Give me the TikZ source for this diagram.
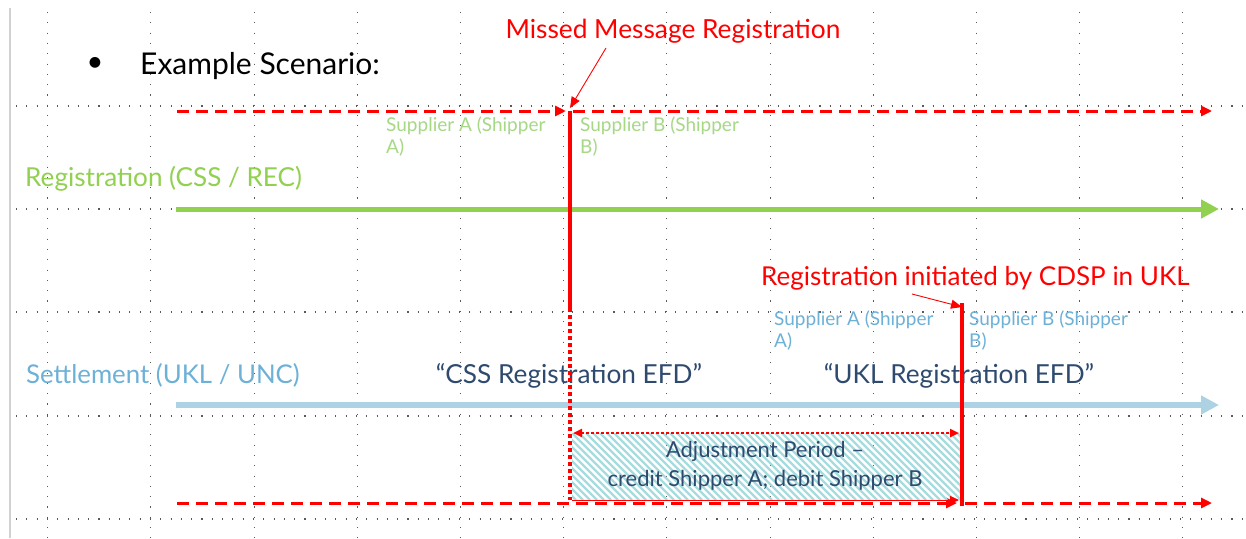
\documentclass[tikz,border=0pt]{standalone}
\usepackage{fontspec}
\setmainfont{Lato}
\usetikzlibrary{arrows.meta}
\definecolor{rred}{HTML}{FF0000}
\definecolor{rgreen}{HTML}{92D050}
\definecolor{lgreen}{HTML}{A6D886}
\definecolor{sblue}{HTML}{ADD2E4}
\definecolor{tblue}{HTML}{6DB1D7}
\definecolor{navy}{HTML}{2E4A6E}
\definecolor{hatchc}{HTML}{A7DCDF}
\tikzset{
  griddot/.style={line width=1.1pt, dash pattern=on 1.1pt off 9.2pt, black!65},
  lbl/.style={inner sep=0pt, anchor=base west},
  big/.style={font=\fontsize{26}{27}\selectfont},
  reddash/.style={rred, line width=3pt, dash pattern=on 12pt off 7pt, -{Triangle[length=11pt,width=10pt]}},
  redvert/.style={rred, line width=3.5pt},
  annot/.style={rred, line width=0.9pt, -{Triangle[length=11pt,width=9pt]}},
  bigtip/.style={-{Triangle[length=18pt,width=18pt]}},
  sup/.style={lbl, font=\fontsize{19}{22}\selectfont, align=left},
}
\begin{document}
\begin{tikzpicture}[x=1pt,y=-1pt]
\useasboundingbox (0,0) rectangle (1246,538);
\fill[white] (0,0) rectangle (1246,538);
% grid
\foreach \i in {0,...,11} \draw[griddot] ({47.7+103.2*\i},12) -- ({47.7+103.2*\i},538);
\foreach \y in {106,209,312,416,519} \draw[griddot] (16,\y) -- (1246,\y);
\draw[black!18, line width=2pt] (10,8) -- (10,538);

% texts
\node[inner sep=0pt] (bul) at (95,64) {\fontsize{29}{30}\selectfont •};
\node[lbl, font=\fontsize{30}{31}\selectfont] (ex) at (140,74) {Example Scenario:};
\node[inner sep=0pt, anchor=base, text=rred, font=\fontsize{26.3}{27}\selectfont] (mm) at (673,38) {Missed Message Registration};
\node[lbl, text=rgreen, font=\fontsize{26.1}{27}\selectfont] (reg) at (25,186) {Registration (CSS / REC)};
\node[lbl, text=tblue, font=\fontsize{25.8}{27}\selectfont] (set) at (26,383) {Settlement (UKL / UNC)};
\node[sup, text=lgreen] (gA) at (386,153) {Supplier A (Shipper\\A)};
\node[sup, text=lgreen] (gB) at (580,153) {Supplier B (Shipper\\B)};
\node[sup, text=tblue] (bA) at (774,347) {Supplier A (Shipper\\A)};
\node[sup, text=tblue] (bB) at (969,347) {Supplier B (Shipper\\B)};
\node[lbl, text=rred, font=\fontsize{26}{27}\selectfont] (ri) at (761,285) {Registration initiated by CDSP in UKL};
\node[inner sep=0pt, anchor=base, text=navy, font=\fontsize{26.2}{27}\selectfont] (css) at (569,383) {“CSS Registration EFD”};
\node[inner sep=0pt, anchor=base, text=navy, font=\fontsize{26.2}{27}\selectfont] (ukl) at (959,383) {“UKL Registration EFD”};

% main lines
\coordinate (t1) at (177,111); \coordinate (t2) at (566,111);
\coordinate (t3) at (573,111); \coordinate (t4) at (1212,111);
\draw[reddash] (t1) -- (t2);
\draw[reddash] (t3) -- (t4);
\coordinate (g1) at (176,209); \coordinate (g2) at (1219,209);
\draw[rgreen, line width=5pt, bigtip] (g1) -- (g2);
\coordinate (s1) at (176,405); \coordinate (s2) at (1219,405);
\draw[sblue, line width=6pt, bigtip] (s1) -- (s2);
\coordinate (b1) at (177,503); \coordinate (b2) at (957,503);
\coordinate (b3) at (965,503); \coordinate (b4) at (1212,503);
\draw[reddash] (b1) -- (b2);
\draw[reddash] (b3) -- (b4);

% adjustment period box
\coordinate (aTL) at (572,433); \coordinate (aBR) at (960,500);
\begin{scope}
\clip (aTL) rectangle (aBR);
\foreach \k in {-70,-63,...,400} \draw[hatchc, line width=2.4pt] ({572+\k},433) -- ({639+\k},500);
\end{scope}
\draw[rred, line width=1pt, -{Triangle[length=9pt,width=8pt]}] (572,500) -- (959,500);
\draw[rred, line width=2.5pt, dash pattern=on 2.5pt off 2.5pt, {Triangle[length=9pt,width=8pt]}-{Triangle[length=9pt,width=8pt]}] (573,433) -- (959,433);
\node[inner sep=0pt, text=navy, align=center, font=\fontsize{22}{29}\selectfont] (adj) at (765,466) {Adjustment Period –\\credit Shipper A; debit Shipper B};

% verticals
\coordinate (v1) at (570,111); \coordinate (v1m) at (570,308); \coordinate (v1b) at (570,500);
\draw[redvert] (v1) -- (v1m);
\draw[rred, line width=3.5pt, dash pattern=on 3.5pt off 3.5pt] (v1m) -- (v1b);
\coordinate (v2t) at (962,303); \coordinate (v2b) at (962,506);
\draw[redvert] (v2b) -- (v2t);

% annotations
\coordinate (m1) at (606,48); \coordinate (m2) at (570,108);
\draw[annot] (m1) -- (m2);
\coordinate (r1) at (912,294); \coordinate (r2) at (962,307);
\draw[annot] (r1) -- (r2);
\end{tikzpicture}
\end{document}
